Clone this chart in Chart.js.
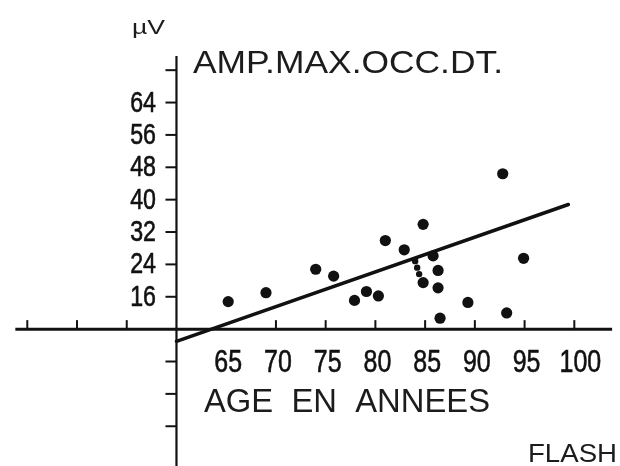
<!DOCTYPE html>
<html>
<head>
<meta charset="utf-8">
<script src="https://cdn.jsdelivr.net/npm/chart.js@4.4.1/dist/chart.umd.min.js"></script>
<style>
  html, body { margin: 0; padding: 0; background: #fff; }
  #wrap { width: 620px; height: 466px; }
</style>
</head>
<body>
<div id="wrap"><canvas id="chart" width="620" height="466"></canvas></div>
<script>
// --- Data ---
const ages = [65.2, 69.0, 74.0, 75.8, 77.9, 79.1, 80.3, 81.0, 82.9, 84.8, 85.8, 86.3, 84.8, 86.3, 86.5, 89.3, 92.8, 93.2, 94.9];
const amplitudes = [14.8, 17.0, 22.8, 21.1, 15.1, 17.3, 16.2, 29.9, 27.6, 33.9, 26.1, 22.5, 19.5, 18.2, 10.7, 14.6, 46.4, 12.0, 25.5];
const clusterAges = [84.0, 84.2, 84.4];
const clusterAmps = [24.8, 23.2, 21.6];
const fitAges = [60, 99.4];
const fitAmps = [5.0, 38.8];

const xTickValues = [65, 70, 75, 80, 85, 90, 95, 100];
const xTickLabels = ['65', '70', '75', '80', '85', '90', '95', '100'];
const xTickMarks = [45, 50, 55, 70, 75, 80, 85, 90, 95, 100];
const yTickValues = [64, 56, 48, 40, 32, 24, 16];
const yTickLabels = ['64', '56', '48', '40', '32', '24', '16'];
const yTickMarks = [72, 64, 56, 48, 40, 32, 24, 16, 0, -8, -16];

const yUnit = 'µV';
const title = 'AMP.MAX.OCC.DT.';
const xTitle = 'AGE  EN  ANNEES';
const note = 'FLASH';

// --- Axes & text drawn by hand, like the original figure ---
const INK = '#111';
const SANS = '"Liberation Sans", Arial, sans-serif';

function stretchText(ctx, text, x, y, width, font) {
    ctx.font = font;
    const w = ctx.measureText(text).width;
    ctx.save();
    ctx.translate(x, y);
    ctx.scale(width / w, 1);
    ctx.textAlign = 'left';
    ctx.textBaseline = 'alphabetic';
    ctx.fillText(text, 0, 0);
    ctx.restore();
}

// condensed digits: squeeze horizontally around the anchor
function narrowText(ctx, text, x, y, align, font, sx) {
    ctx.font = font;
    const w = ctx.measureText(text).width * sx;
    const left = align === 'right' ? x - w : align === 'center' ? x - w / 2 : x;
    ctx.save();
    ctx.translate(left, y);
    ctx.scale(sx, 1);
    ctx.textAlign = 'left';
    ctx.fillText(text, 0, 0);
    ctx.strokeStyle = ctx.fillStyle;
    ctx.lineWidth = 0.6;
    ctx.strokeText(text, 0, 0);
    ctx.restore();
}

const axesPlugin = {
    id: 'crossAxes',
    beforeDatasetsDraw(chart) {
        const { ctx, scales: { x, y } } = chart;
        const x0 = x.getPixelForValue(60);
        const y0 = y.getPixelForValue(8);
        ctx.save();
        ctx.strokeStyle = INK;
        ctx.lineCap = 'butt';

        // horizontal axis
        ctx.lineWidth = 3;
        ctx.beginPath();
        ctx.moveTo(x.getPixelForValue(43.8), y0);
        ctx.lineTo(x.getPixelForValue(103.8), y0);
        ctx.stroke();

        // vertical axis
        ctx.lineWidth = 2.2;
        ctx.beginPath();
        ctx.moveTo(x0, y.getPixelForValue(75.5));
        ctx.lineTo(x0, chart.height);
        ctx.stroke();

        // ticks
        ctx.lineWidth = 2;
        xTickMarks.forEach(v => {
            const px = x.getPixelForValue(v);
            ctx.beginPath();
            ctx.moveTo(px, y0);
            ctx.lineTo(px, y0 - 9);
            ctx.stroke();
        });
        yTickMarks.forEach(v => {
            const py = y.getPixelForValue(v);
            ctx.beginPath();
            ctx.moveTo(x0, py);
            ctx.lineTo(x0 - 11, py);
            ctx.stroke();
        });
        ctx.restore();
    },
    afterDraw(chart) {
        const { ctx, scales: { x, y } } = chart;
        ctx.save();
        ctx.fillStyle = INK;

        // tick labels
        ctx.textBaseline = 'middle';
        yTickValues.forEach((v, i) => {
            narrowText(ctx, yTickLabels[i], 156, y.getPixelForValue(v) + 1, 'right', '29px ' + SANS, 0.8);
        });
        ctx.textBaseline = 'alphabetic';
        xTickValues.forEach((v, i) => {
            narrowText(ctx, xTickLabels[i], x.getPixelForValue(v) + (i === 7 ? 6 : 2), 372, 'center', '32px ' + SANS, 0.78);
        });

        // titles
        ctx.fillStyle = '#1c1c1c';
        stretchText(ctx, yUnit, 132, 34, 33, '21px ' + SANS);
        stretchText(ctx, title, 193, 73, 310, '31px ' + SANS);
        stretchText(ctx, xTitle, 204, 412, 286, '34px ' + SANS);
        stretchText(ctx, note, 528, 462, 89, '26px ' + SANS);
        ctx.restore();
    }
};

// --- Chart ---
const ctx = document.getElementById('chart').getContext('2d');
const chart = new Chart(ctx, {
    type: 'scatter',
    data: {
        datasets: [
            {
                type: 'line',
                data: fitAges.map((a, i) => ({ x: a, y: fitAmps[i] })),
                borderColor: INK,
                borderWidth: 3.5,
                pointRadius: 0,
                borderCapStyle: 'round',
                order: 2
            },
            {
                data: ages.map((a, i) => ({ x: a, y: amplitudes[i] })),
                backgroundColor: INK,
                borderWidth: 0,
                pointRadius: 5.6,
                order: 1
            },
            {
                data: clusterAges.map((a, i) => ({ x: a, y: clusterAmps[i] })),
                backgroundColor: INK,
                borderWidth: 0,
                pointRadius: 3.2,
                order: 1
            }
        ]
    },
    options: {
        responsive: false,
        animation: false,
        layout: { padding: 0 },
        plugins: { legend: { display: false }, tooltip: { enabled: false } },
        scales: {
            x: { type: 'linear', min: 42.82, max: 104.03, display: false },
            y: { type: 'linear', min: -24.44, max: 87.96, display: false }
        }
    },
    plugins: [axesPlugin]
});
</script>
</body>
</html>
